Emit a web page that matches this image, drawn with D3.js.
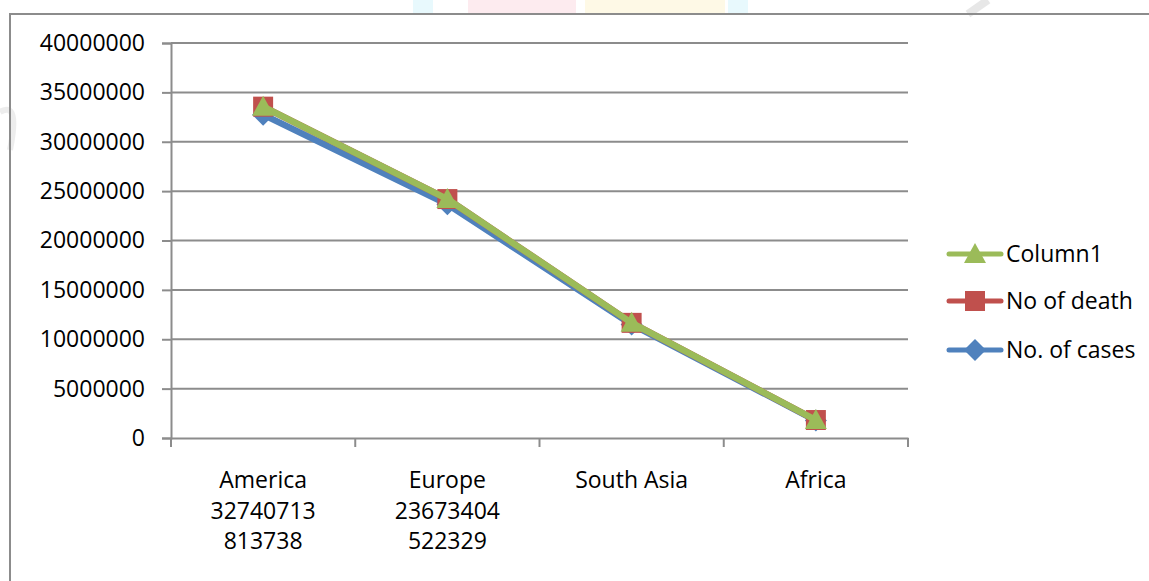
<!DOCTYPE html>
<html>
<head>
<meta charset="utf-8">
<script src="https://cdn.jsdelivr.net/npm/d3@7"></script>
<style>
  html, body { margin: 0; padding: 0; background: #fff; }
  svg { display: block; }
  text { font-family: "Open Sans", "Noto Sans", sans-serif; fill: #000; }
</style>
</head>
<body>
<svg id="chart" width="1149" height="581"></svg>
<script>
// Regions and their figures
const regions = ["America", "Europe", "South Asia", "Africa"];
const regionSubLabels = [["32740713", "813738"], ["23673404", "522329"], [], []];
const cases  = [32740713, 23673404, 11500000, 1770000];
const deaths = [813738, 522329, 160000, 50000];
const column1 = [0, 0, 0, 0];
const yTicks = [0, 5000000, 10000000, 15000000, 20000000, 25000000, 30000000, 35000000, 40000000];
const seriesNames = ["No. of cases", "No of death", "Column1"];

const svg = d3.select("#chart");
const W = 1149, H = 581;
svg.append("rect").attr("width", W).attr("height", H).attr("fill", "#fff");

// faint background print behind the chart frame
const wm = svg.append("g").attr("opacity", 0.35);
wm.append("rect").attr("x", 413).attr("y", 0).attr("width", 20).attr("height", 13).attr("fill", "#bfeefa");
wm.append("rect").attr("x", 468).attr("y", 0).attr("width", 108).attr("height", 13).attr("fill", "#fbc8d4");
wm.append("rect").attr("x", 585).attr("y", 0).attr("width", 140).attr("height", 13).attr("fill", "#fdf0b8");
wm.append("rect").attr("x", 728).attr("y", 0).attr("width", 20).attr("height", 13).attr("fill", "#bfeefa");
wm.append("path").attr("d", "M968,14 L988,0").attr("stroke", "#bbb").attr("stroke-width", 8).attr("fill", "none");
wm.append("path").attr("d", "M0,112 Q20,100 10,150").attr("stroke", "#ccc").attr("stroke-width", 6).attr("fill", "none");

// chart frame (extends beyond the right and bottom edges)
svg.append("rect").attr("x", 10).attr("y", 14).attr("width", W + 20).attr("height", H + 20)
  .attr("fill", "none").attr("stroke", "#8c8c8c").attr("stroke-width", 2);

const plot = { left: 171, right: 908, top: 43, bottom: 438 };

const x = d3.scaleBand().domain(regions).range([plot.left, plot.right]).paddingInner(0).paddingOuter(0);
const y = d3.scaleLinear().domain([0, 40000000]).range([plot.bottom, plot.top]);

// stacked totals
const sCases = cases.slice();
const sDeaths = cases.map((v, i) => v + deaths[i]);
const sCol1 = sDeaths.map((v, i) => v + column1[i]);

// gridlines
svg.append("g").selectAll("line").data(yTicks.filter(t => t > 0)).join("line")
  .attr("x1", plot.left).attr("x2", plot.right)
  .attr("y1", d => y(d)).attr("y2", d => y(d))
  .attr("stroke", "#8c8c8c").attr("stroke-width", 2);

// y axis
const yAxis = svg.append("g").attr("transform", `translate(${plot.left},0)`)
  .call(d3.axisLeft(y).tickValues(yTicks).tickSize(9).tickPadding(17).tickFormat(d3.format("d")));
yAxis.select(".domain").attr("stroke", "#8c8c8c").attr("stroke-width", 2);
yAxis.selectAll(".tick line").attr("stroke", "#8c8c8c").attr("stroke-width", 2);
yAxis.selectAll(".tick text").attr("font-size", 23).attr("font-family", "'Open Sans', sans-serif").attr("fill", "#000");

// x axis
const xAxis = svg.append("g").attr("transform", `translate(0,${plot.bottom})`)
  .call(d3.axisBottom(x).tickSize(0).tickFormat(""));
xAxis.select(".domain").attr("stroke", "#8c8c8c").attr("stroke-width", 2);
const bounds = regions.map(r => x(r)).concat([plot.right]);
svg.append("g").selectAll("line").data(bounds).join("line")
  .attr("x1", d => d).attr("x2", d => d)
  .attr("y1", plot.bottom).attr("y2", plot.bottom + 9)
  .attr("stroke", "#8c8c8c").attr("stroke-width", 2);

// category labels (multi-line)
const catG = svg.append("g");
regions.forEach((r, i) => {
  const lines = [r].concat(regionSubLabels[i]);
  const t = catG.append("text").attr("text-anchor", "middle").attr("font-size", 23)
    .attr("x", x(r) + x.bandwidth() / 2).attr("y", 488);
  lines.forEach((ln, k) => {
    t.append("tspan").attr("x", x(r) + x.bandwidth() / 2).attr("dy", k === 0 ? 0 : 30.5).text(ln);
  });
});

const cx = r => x(r) + x.bandwidth() / 2;
const colors = { cases: "#4f81bd", deaths: "#c0504d", col1: "#9bbb59" };

const line = d3.line().x((d, i) => cx(regions[i])).y(d => y(d));

function drawSeries(vals, color, marker) {
  const g = svg.append("g");
  g.append("path").datum(vals).attr("d", line).attr("fill", "none")
    .attr("stroke", color).attr("stroke-width", 6.5).attr("stroke-linejoin", "round").attr("stroke-linecap", "round");
  g.selectAll("path.m").data(vals).join("path").attr("class", "m")
    .attr("transform", (d, i) => `translate(${cx(regions[i])},${y(d)})`)
    .attr("d", marker).attr("fill", color);
}

const diamond = "M0,-11L11,0L0,11L-11,0Z";
const square = "M-10,-10H10V10H-10Z";
const triangle = "M0,-11L11,9L-11,9Z";

drawSeries(sCases, colors.cases, diamond);
drawSeries(sDeaths, colors.deaths, square);
drawSeries(sCol1, colors.col1, triangle);

// legend
const legend = [
  { name: seriesNames[2], color: colors.col1, marker: triangle, y: 254 },
  { name: seriesNames[1], color: colors.deaths, marker: square, y: 301 },
  { name: seriesNames[0], color: colors.cases, marker: diamond, y: 350 }
];
const lg = svg.append("g");
legend.forEach(l => {
  lg.append("line").attr("x1", 949).attr("x2", 1001).attr("y1", l.y).attr("y2", l.y)
    .attr("stroke", l.color).attr("stroke-width", 5).attr("stroke-linecap", "round");
  lg.append("path").attr("d", l.marker).attr("fill", l.color)
    .attr("transform", `translate(975,${l.y})`);
  lg.append("text").attr("x", 1006).attr("y", l.y + 8).attr("font-size", 23).text(l.name);
});
</script>
</body>
</html>
